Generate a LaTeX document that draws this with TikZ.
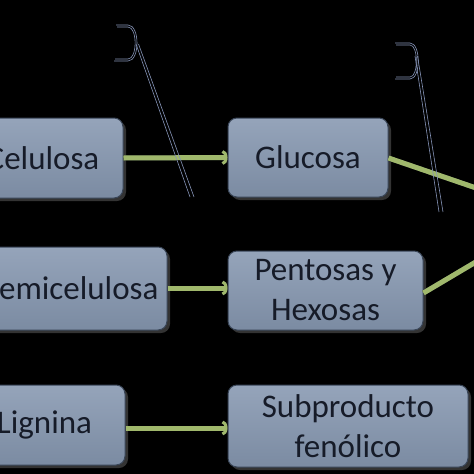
\documentclass[tikz,border=0pt]{standalone}
\usepackage{fontspec}
\setmainfont{Carlito}
\usetikzlibrary{arrows.meta,shadows}
\definecolor{boxtop}{HTML}{95A4BA}
\definecolor{boxbot}{HTML}{7B8BA2}
\definecolor{boxline}{HTML}{3A4658}
\definecolor{txt}{HTML}{161B28}
\definecolor{arrowgreen}{HTML}{A0B86C}
\definecolor{arrowshadow}{HTML}{2E3A36}
\definecolor{thinline}{HTML}{8694B8}
\begin{document}
\begin{tikzpicture}[x=1pt,y=-1pt,
  box/.style={draw=boxline, line width=1pt, rounded corners=9pt,
    top color=boxtop, bottom color=boxbot, inner sep=0pt,
    font=\fontsize{33}{40}\selectfont, text=txt, align=center,
    drop shadow={shadow xshift=3pt, shadow yshift=-3pt, fill=black!55!gray, opacity=0.9}},
  flowline/.style={line width=5pt, draw=arrowgreen},
  flowshadow/.style={line width=5pt, draw=arrowshadow, yshift=-2.5pt},
  flowarrow/.style={flowline, -{Arc Barb[length=5pt,width=15pt,line width=3pt]}},
  flowarrowshadow/.style={flowshadow, -{Arc Barb[length=5pt,width=15pt,line width=3pt]}},
  thin/.style={draw=thinline, line width=0.6pt}
]
\useasboundingbox (0,0) rectangle (474,474);
\fill[black] (0,0) rectangle (474,474);
\clip (0,0) rectangle (474,474);

% boxes
\node[box, minimum width=160pt, minimum height=80pt] (cel) at (43,158) {Celulosa};
\node[box, minimum width=160pt, minimum height=79pt] (glu) at (308,157.5) {Glucosa};
\node[box, minimum width=197pt, minimum height=83pt] (hem) at (68.5,288.5) {Hemicelulosa};
\node[box, minimum width=195pt, minimum height=79pt] (pen) at (325.5,290.5) {Pentosas y\\Hexosas};
\node[box, minimum width=161pt, minimum height=80pt] (lig) at (44.5,425) {Lignina};
\node[box, minimum width=240pt, minimum height=82pt] (sub) at (348,426) {Subproducto\\fenólico};

\coordinate (out) at (555,215);

% connectors: shadows
\draw[flowarrowshadow] (cel.east) -- (glu.west);
\draw[flowarrowshadow] ([yshift=0.5pt]hem.east) -- ([yshift=0.5pt]hem.east -| pen.west);
\draw[flowarrowshadow] ([yshift=-3pt]lig.east) -- ([yshift=-3pt]lig.east -| sub.west);
\draw[flowshadow] ([yshift=-0.5pt]glu.east) -- (out);
\draw[flowshadow] ([yshift=-2.5pt]pen.east) -- (out);
% connectors
\draw[flowarrow] (cel.east) -- (glu.west);
\draw[flowarrow] ([yshift=0.5pt]hem.east) -- ([yshift=0.5pt]hem.east -| pen.west);
\draw[flowarrow] ([yshift=-3pt]lig.east) -- ([yshift=-3pt]lig.east -| sub.west);
\draw[flowline] ([yshift=-0.5pt]glu.east) -- (out);
\draw[flowline] ([yshift=-2.5pt]pen.east) -- (out);

% thin decorations (double strokes)
\draw[thin] (116,25) -- (128,25) .. controls (140,25) and (140,61) .. (128,61) -- (114,61);
\draw[thin] (117,27) -- (128,27) .. controls (137.5,27) and (137.5,59) .. (128,59) -- (115,59);
\draw[thin] (136,44) -- (190,197);
\draw[thin] (138.5,44) -- (194,197);
\draw[thin] (395,43) -- (410,43) .. controls (421,43) and (421,79) .. (410,79) -- (395,79);
\draw[thin] (396,45) -- (410,45) .. controls (418.5,45) and (418.5,77) .. (410,77) -- (396,77);
\draw[thin] (415,56) -- (439,212);
\draw[thin] (417.5,56) -- (443,212);
\end{tikzpicture}
\end{document}
